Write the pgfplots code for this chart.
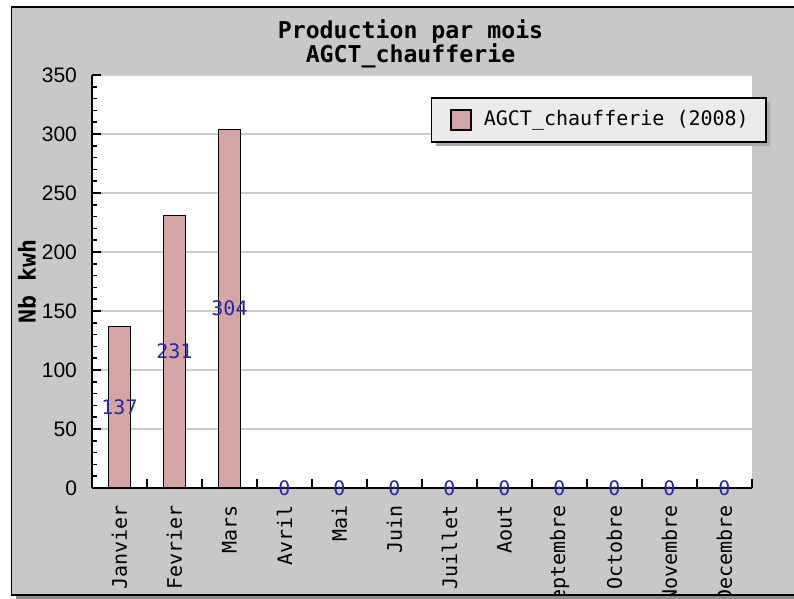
\documentclass[border=0pt]{standalone}
\usepackage{pgfplots}
\pgfplotsset{compat=1.18}
\usepackage{pgfplotstable}
\usepackage{fontspec}
\setmainfont{DejaVu Sans Mono}
\newfontfamily\lsans{Liberation Sans}
\usetikzlibrary{shadows}
\definecolor{bg}{RGB}{200,200,200}
\definecolor{barc}{RGB}{212,165,165}
\definecolor{legbg}{RGB}{235,235,235}
\definecolor{lblue}{RGB}{40,40,160}
\definecolor{gridc}{RGB}{205,205,205}

\pgfplotstableread{
x v
0 137
1 231
2 304
3 0
4 0
5 0
6 0
7 0
8 0
9 0
10 0
11 0
}\data

\begin{document}
\begin{tikzpicture}
\useasboundingbox (0pt,0pt) rectangle (397pt,299.5pt);
\fill[black!45] (7.75pt,0pt) rectangle (404pt,294pt);
\draw[fill=bg, line width=0.75pt] (5.75pt,2pt) rectangle (402pt,296pt);
\begin{scope}
\clip (6.2pt,2.4pt) rectangle (401pt,295.6pt);
\begin{axis}[
  at={(46pt,55.5pt)}, anchor=south west,
  scale only axis, width=330pt, height=206.5pt,
  xmin=-0.5, xmax=11.5, ymin=0, ymax=350,
  axis lines*=left,
  axis line style={line width=0.75pt},
  axis background/.style={fill=white},
  xtick={-0.5,0.5,...,11.5},
  x tick label as interval,
  xticklabels={Janvier,Fevrier,Mars,Avril,Mai,Juin,Juillet,Aout,Septembre,Octobre,Novembre,Decembre},
  xticklabel style={rotate=90, anchor=east, font=\fontsize{10}{12}\selectfont, xshift=-5pt},
  ytick={0,50,...,350},
  minor y tick num=4,
  major tick length=4.5pt,
  minor tick length=2.5pt,
  tick style={black, line width=0.75pt},
  tick align=inside,
  ymajorgrids,
  major grid style={gridc, line width=0.75pt},
  /pgf/number format/assume math mode=true,
  yticklabel style={font=\lsans\fontsize{10.5}{12}\selectfont, xshift=-4pt},
  title={Production par mois\\AGCT\_chaufferie},
  title style={at={(0.4826,1.0799)}, anchor=center, yshift=-7pt, align=center, font=\bfseries\fontsize{11.6}{12}\selectfont},
  ylabel={Nb kwh},
  ylabel style={at={(axis description cs:-0.0985,0.5)}, anchor=center, font=\bfseries\fontsize{11.6}{12}\selectfont},
  legend style={at={(0.5136,0.9467)}, anchor=north west, fill=legbg, draw=black, line width=0.75pt,
    drop shadow={shadow xshift=2pt, shadow yshift=-2pt, fill=black!33, opacity=1},
    font=\fontsize{10}{12}\selectfont, inner xsep=6.7pt, inner ysep=4.5pt, column sep=4pt},
  legend image code/.code={%
    \pgfsetlinewidth{0.75pt}\pgfsetfillcolor{barc}\pgfsetstrokecolor{black}%
    \pgfpathrectangle{\pgfpoint{3pt}{-5pt}}{\pgfpoint{10pt}{10pt}}\pgfusepath{fill,stroke}%
    \pgfpathrectangle{\pgfpoint{0pt}{-5pt}}{\pgfpoint{13pt}{10pt}}\pgfusepath{discard}},
]
\addplot[ybar, bar width=11pt, fill=barc, draw=black, line width=0.75pt] table[x=x, y=v]{\data};
\addlegendentry{AGCT\_chaufferie (2008)}
\addplot[forget plot, only marks, mark=none, nodes near coords, point meta=explicit symbolic,
  nodes near coords style={anchor=center, text=lblue, font=\fontsize{10}{12}\selectfont}]
  table[x=x, y expr=\thisrow{v}/2, meta=v]{\data};
\end{axis}
\end{scope}
\end{tikzpicture}
\end{document}
